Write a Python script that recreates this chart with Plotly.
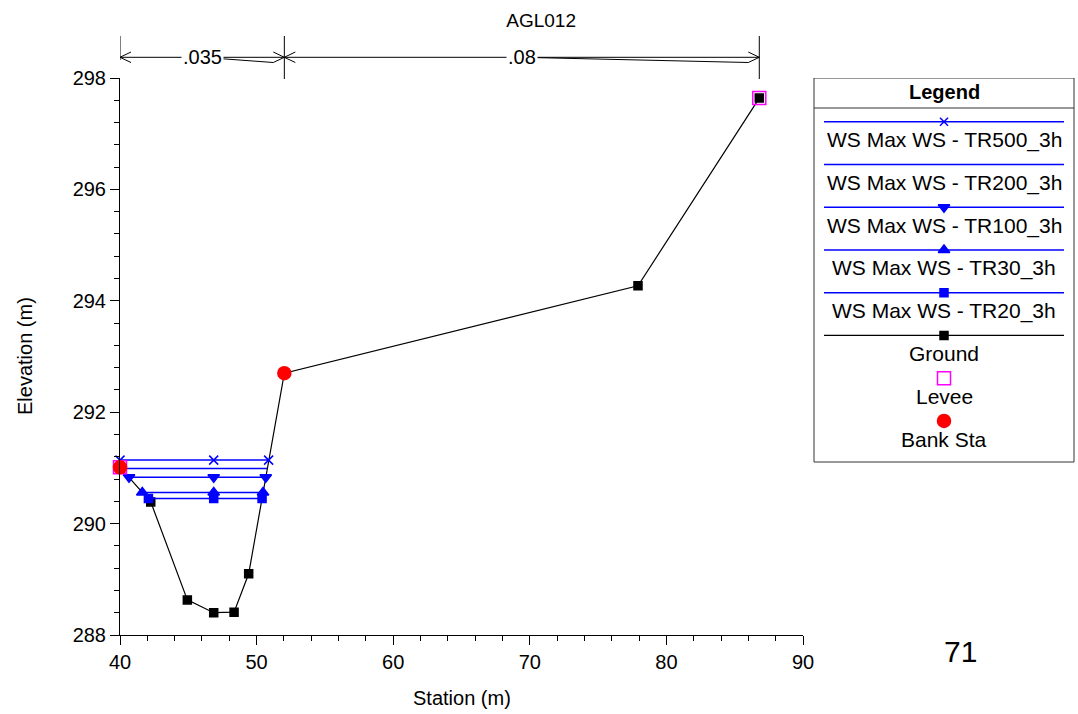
import plotly.graph_objects as go

# ---------------- data ----------------
chart_title = "AGL012"
page_label = "71"

ground_x = [40.0, 42.25, 44.93, 46.86, 48.35, 49.42, 52.03, 77.92, 86.80]
ground_y = [291.01, 290.39, 288.63, 288.40, 288.41, 289.10, 292.70, 294.27, 297.64]

tr500_x = [40.0, 46.86, 50.88]
tr500_y = [291.14, 291.14, 291.14]
tr200_x = [40.07, 50.77]
tr200_y = [290.99, 290.99]
tr100_x = [40.66, 46.86, 50.67]
tr100_y = [290.83, 290.83, 290.83]
tr30_x = [41.63, 46.86, 50.47]
tr30_y = [290.56, 290.56, 290.56]
tr20_x = [42.08, 46.86, 50.40]
tr20_y = [290.45, 290.45, 290.45]

levee_x = [40.0, 86.80]
levee_y = [291.01, 297.64]
bank_x = [40.0, 52.03]
bank_y = [291.01, 292.70]

n_labels = [".035", ".08"]
n_breaks = [40.0, 52.03, 86.80]

x_ticks = [40, 50, 60, 70, 80, 90]
y_ticks = [288, 290, 292, 294, 296, 298]

BLUE = "#0000FF"
series = [
    dict(name="WS Max WS - TR500_3h", x=tr500_x, y=tr500_y, color=BLUE, symbol="x-thin-open", size=9, line=True),
    dict(name="WS Max WS - TR200_3h", x=tr200_x, y=tr200_y, color=BLUE, symbol=None, size=0, line=True),
    dict(name="WS Max WS - TR100_3h", x=tr100_x, y=tr100_y, color=BLUE, symbol="triangle-down", size=10, line=True),
    dict(name="WS Max WS - TR30_3h", x=tr30_x, y=tr30_y, color=BLUE, symbol="triangle-up", size=10, line=True),
    dict(name="WS Max WS - TR20_3h", x=tr20_x, y=tr20_y, color=BLUE, symbol="square", size=8, line=True),
    dict(name="Ground", x=ground_x, y=ground_y, color="black", symbol="square", size=8, line=True),
    dict(name="Levee", x=levee_x, y=levee_y, color="#FF00FF", symbol="square-open", size=13, line=False),
    dict(name="Bank Sta", x=bank_x, y=bank_y, color="#FF0000", symbol="circle", size=13, line=False),
]

FONT = "Liberation Sans, Arial, sans-serif"

# ---------------- geometry (layout) ----------------
W, H = 1078, 714
ML, MR, MT, MB = 120, 3, 78, 79
PW = W - ML - MR           # paper width
PH = H - MT - MB           # paper height
PLOT_R = 803               # right edge of main plot (px)
LEG_L, LEG_R, LEG_T, LEG_B = 814, 1074, 78, 462


def paper_x(px):
    return (px - ML) / PW


def paper_y(py):
    return (H - MB - py) / PH


fig = go.Figure()

# main traces: draw ground first then water surfaces, levee, bank
order = [5, 0, 1, 2, 3, 4, 6, 7]
for i in order:
    s = series[i]
    if s["line"] and s["symbol"]:
        mode = "lines+markers"
    elif s["line"]:
        mode = "lines"
    else:
        mode = "markers"
    fig.add_trace(go.Scatter(
        x=s["x"], y=s["y"], mode=mode, name=s["name"], showlegend=False,
        line=dict(color=s["color"], width=1.5 if s["color"] == BLUE else 1.2),
        marker=dict(symbol=s["symbol"] or "circle", size=s["size"], color=s["color"], opacity=1,
                    line=dict(color=s["color"], width=1.5)),
        cliponaxis=False, hoverinfo="skip",
        xaxis="x", yaxis="y",
    ))

# ---------------- Manning's n annotation above plot ----------------
shapes = []
annotations = []
xscale = (x_ticks[-1] - x_ticks[0]) / (PLOT_R - ML)  # data units per px
barb = 11 * xscale
ya = paper_y(57.3)
yb_up = paper_y(52)
yb_dn = paper_y(62.5)
for k, xb in enumerate(n_breaks):
    shapes.append(dict(type="line", xref="x", yref="paper", x0=xb, x1=xb,
                       y0=paper_y(36), y1=paper_y(60 if k == 0 else 79),
                       line=dict(color="black", width=1)))
for i, lab in enumerate(n_labels):
    x0, x1 = n_breaks[i], n_breaks[i + 1]
    mid = (x0 + x1) / 2
    shapes.append(dict(type="line", xref="x", yref="paper", x0=x0, x1=x1, y0=ya, y1=ya,
                       line=dict(color="black", width=1)))
    shapes.append(dict(type="line", xref="x", yref="paper", x0=mid, x1=x1 - barb, y0=ya, y1=yb_dn,
                       line=dict(color="black", width=1)))
    path = (f"M {x0 + barb},{yb_up} L {x0},{ya} L {x0 + barb},{yb_dn} "
            f"M {x1 - barb},{yb_up} L {x1},{ya} L {x1 - barb},{yb_dn}")
    shapes.append(dict(type="path", xref="x", yref="paper", path=path,
                       line=dict(color="black", width=1)))
    annotations.append(dict(x=mid, y=ya, xref="x", yref="paper", text=lab, showarrow=False,
                            font=dict(family=FONT, size=20, color="black"),
                            bgcolor="white", borderpad=1, xanchor="center", yanchor="middle"))

# ---------------- custom legend ----------------
shapes.append(dict(type="rect", xref="x2", yref="y2", x0=LEG_L, x1=LEG_R, y0=LEG_T, y1=LEG_B,
                   line=dict(color="#333333", width=1), fillcolor="rgba(0,0,0,0)"))
shapes.append(dict(type="line", xref="x2", yref="y2", x0=LEG_L, x1=LEG_R, y0=108, y1=108,
                   line=dict(color="#333333", width=1)))
annotations.append(dict(x=(LEG_L + LEG_R) / 2, y=92, xref="x2", yref="y2", text="<b>Legend</b>",
                        showarrow=False, font=dict(family=FONT, size=20, color="black"),
                        xanchor="center", yanchor="middle"))
leg_cx = 944
row0, row_step, text_off = 121.7, 42.75, 18.5
mk_x, mk_y, mk_sym, mk_col, mk_size = [], [], [], [], []
for r, s in enumerate(series):
    ly = row0 + r * row_step
    if s["line"]:
        shapes.append(dict(type="line", xref="x2", yref="y2", x0=824, x1=1064, y0=ly, y1=ly,
                           line=dict(color=s["color"], width=1.5 if s["color"] == BLUE else 1.2)))
    if s["symbol"]:
        mk_x.append(leg_cx)
        mk_y.append(ly)
        mk_sym.append(s["symbol"])
        mk_col.append(s["color"])
        mk_size.append(s["size"] if s["symbol"] != "x-thin-open" else 8)
    annotations.append(dict(x=leg_cx, y=ly + text_off, xref="x2", yref="y2", text=s["name"],
                            showarrow=False, font=dict(family=FONT, size=21, color="black"),
                            xanchor="center", yanchor="middle"))
fig.add_trace(go.Scatter(x=mk_x, y=mk_y, mode="markers", showlegend=False, hoverinfo="skip",
                         marker=dict(symbol=mk_sym, color=mk_col, size=mk_size, opacity=1,
                                     line=dict(color=mk_col, width=1.5)),
                         xaxis="x2", yaxis="y2", cliponaxis=False))

# axis titles and page label
annotations.append(dict(x=paper_x((ML + PLOT_R) / 2), y=paper_y(698), xref="paper", yref="paper",
                        text="Station (m)", showarrow=False,
                        font=dict(family=FONT, size=20, color="black"),
                        xanchor="center", yanchor="middle"))
annotations.append(dict(x=paper_x(25), y=paper_y(356), xref="paper", yref="paper",
                        text="Elevation (m)", showarrow=False, textangle=-90,
                        font=dict(family=FONT, size=20, color="black"),
                        xanchor="center", yanchor="middle"))
annotations.append(dict(x=paper_x(960), y=paper_y(651), xref="paper", yref="paper",
                        text=page_label, showarrow=False,
                        font=dict(family=FONT, size=30, color="black"),
                        xanchor="center", yanchor="middle"))

axis_common = dict(showgrid=False, zeroline=False, showline=True, linecolor="black", linewidth=1,
                   ticks="outside", ticklen=9, tickcolor="black", tickwidth=1, automargin=False,
                   tickfont=dict(family=FONT, size=20, color="black"), mirror=False)

fig.update_layout(
    width=W, height=H, autosize=False,
    margin=dict(l=ML, r=MR, t=MT, b=MB, pad=0, autoexpand=False),
    paper_bgcolor="white", plot_bgcolor="white",
    title=dict(text=chart_title, x=0.502, xref="container", y=1 - 20 / H, yref="container",
               xanchor="center", yanchor="middle", automargin=False,
               font=dict(family=FONT, size=19, color="black")),
    xaxis=dict(domain=[0, paper_x(PLOT_R)], range=[x_ticks[0], x_ticks[-1]], tickvals=x_ticks,
               minor=dict(dtick=2, ticks="outside", ticklen=5, tickcolor="black", showgrid=False),
               anchor="y", **axis_common),
    yaxis=dict(domain=[0, 1], range=[y_ticks[0], y_ticks[-1]], tickvals=y_ticks,
               minor=dict(dtick=0.4, ticks="outside", ticklen=5, tickcolor="black", showgrid=False),
               anchor="x", **axis_common),
    xaxis2=dict(domain=[paper_x(LEG_L - 1), 1], range=[LEG_L - 1, W - MR], visible=False,
                anchor="y2", fixedrange=True, automargin=False),
    yaxis2=dict(domain=[paper_y(LEG_B + 1), 1], range=[LEG_B + 1, MT], visible=False,
                anchor="x2", fixedrange=True, automargin=False),
    shapes=shapes,
    annotations=annotations,
    showlegend=False,
)

fig.write_html(
    "out.html",
    config={"displayModeBar": False, "responsive": False},
    default_width="1078px", default_height="714px",
    post_script=("document.body.style.margin='0';"
                 "document.body.style.overflow='hidden';"
                 "document.documentElement.style.overflow='hidden';"),
)
